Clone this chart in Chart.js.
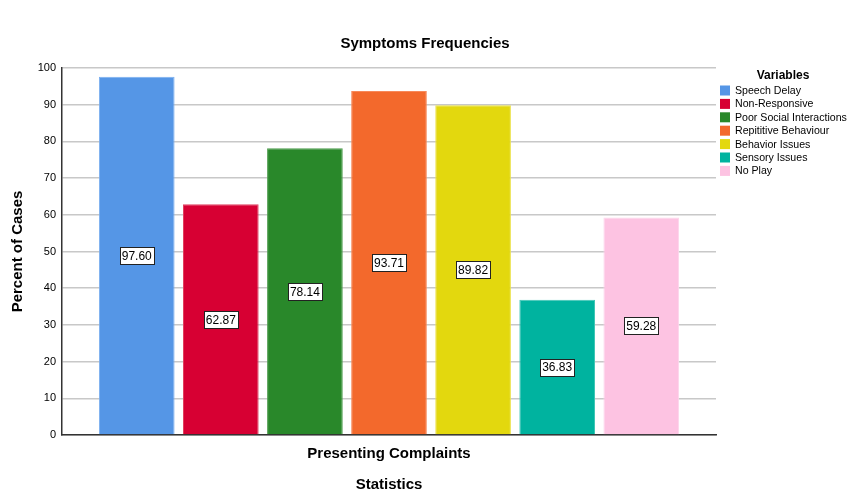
<!DOCTYPE html>
<html>
<head>
<meta charset="utf-8">
<script src="https://cdn.jsdelivr.net/npm/chart.js"></script>
<style>
  html, body { margin: 0; padding: 0; background: #fff; }
  #wrap { width: 851px; height: 501px; }
</style>
</head>
<body>
<div id="wrap"><canvas id="grafico" width="851" height="501"></canvas></div>
<script>
// ===== Dados
const categorias = ['Presenting Complaints'];
const variaveis = ['Speech Delay', 'Non-Responsive', 'Poor Social Interactions',
  'Repititive Behaviour', 'Behavior Issues', 'Sensory Issues', 'No Play'];
const valores = [97.60, 62.87, 78.14, 93.71, 89.82, 36.83, 59.28];
const cores = ['#5596e6', '#d70033', '#29882a', '#f3692c', '#e3d80e', '#00b39f', '#fdc3e2'];
const bordas = ['#7aaef0', '#e04060', '#4c9c4c', '#f7895a', '#ebe24a', '#40c6b6', '#fdd6ec'];
const yTicks = [0, 10, 20, 30, 40, 50, 60, 70, 80, 90, 100];

const FONT = 'Arial, "Liberation Sans", sans-serif';

// ===== Rótulos de valor em caixas (no meio da barra)
const valueBoxPlugin = {
  id: 'valueBoxPlugin',
  afterDatasetsDraw(chart) {
    const { ctx } = chart;
    ctx.save();
    ctx.font = '12px ' + FONT;
    ctx.textAlign = 'center';
    ctx.textBaseline = 'middle';
    chart.data.datasets.forEach((ds, i) => {
      const bar = chart.getDatasetMeta(i).data[0];
      const text = ds.data[0].toFixed(2);
      const y = (bar.y + bar.base) / 2;
      const w = ctx.measureText(text).width + 4;
      const h = 17;
      ctx.fillStyle = '#fff';
      ctx.fillRect(Math.round(bar.x - w / 2) + 0.5, Math.round(y - h / 2) + 0.5, Math.round(w), h);
      ctx.strokeStyle = '#222';
      ctx.lineWidth = 1;
      ctx.strokeRect(Math.round(bar.x - w / 2) + 0.5, Math.round(y - h / 2) + 0.5, Math.round(w), h);
      ctx.fillStyle = '#000';
      ctx.fillText(text, bar.x, y + 1);
    });
    ctx.restore();
  }
};

// ===== Legenda à direita + título geral
const legendaPlugin = {
  id: 'legendaPlugin',
  afterDraw(chart) {
    const { ctx } = chart;
    ctx.save();
    ctx.fillStyle = '#000';
    ctx.font = 'bold 15px ' + FONT;
    ctx.textAlign = 'center';
    ctx.textBaseline = 'middle';
    ctx.fillText('Symptoms Frequencies', 425, 44);

    ctx.font = 'bold 12px ' + FONT;
    ctx.fillText('Variables', 783, 76);
    ctx.font = '10.6px ' + FONT;
    ctx.textAlign = 'left';
    chart.data.datasets.forEach((ds, i) => {
      const y = 90.5 + i * 13.4;
      ctx.fillStyle = ds.backgroundColor;
      ctx.fillRect(720, y - 5, 10, 10);
      ctx.fillStyle = '#000';
      ctx.fillText(ds.label, 735, y + 0.5);
    });
    ctx.restore();
  }
};

const datasets = variaveis.map((nome, i) => ({
  label: nome,
  data: [valores[i]],
  backgroundColor: cores[i],
  borderColor: bordas[i],
  borderWidth: 1,
  borderSkipped: 'bottom',
  barPercentage: 0.9,
  categoryPercentage: 0.9
}));

new Chart(document.getElementById('grafico'), {
  type: 'bar',
  data: { labels: categorias, datasets },
  options: {
    responsive: false,
    animation: false,
    devicePixelRatio: 1,
    layout: { padding: { top: 68, right: 135, left: 5, bottom: 0 } },
    plugins: {
      legend: { display: false },
      tooltip: { enabled: false },
      title: { display: false }
    },
    scales: {
      x: {
        grid: { display: false, drawTicks: false },
        border: { color: '#333', width: 1.5 },
        ticks: { color: '#000', font: { family: FONT, size: 15, weight: 'bold' }, padding: 10 },
        title: {
          display: true, text: 'Statistics', color: '#000',
          font: { family: FONT, size: 15, weight: 'bold' }, padding: { top: 11, bottom: 7 }
        },
        afterFit(scale) { scale.height = 66; }
      },
      y: {
        min: 0, max: 100,
        afterBuildTicks(scale) { scale.ticks = yTicks.map(v => ({ value: v })); },
        grid: { color: '#c8c8c8', lineWidth: 1.5, drawTicks: false },
        border: { color: '#333', width: 1.5 },
        ticks: { color: '#000', font: { family: FONT, size: 11 }, padding: 6 },
        title: {
          display: true, text: 'Percent of Cases', color: '#000',
          font: { family: FONT, size: 15, weight: 'bold' }
        },
        afterFit(scale) { scale.width = 57; }
      }
    }
  },
  plugins: [valueBoxPlugin, legendaPlugin]
});
</script>
</body>
</html>
